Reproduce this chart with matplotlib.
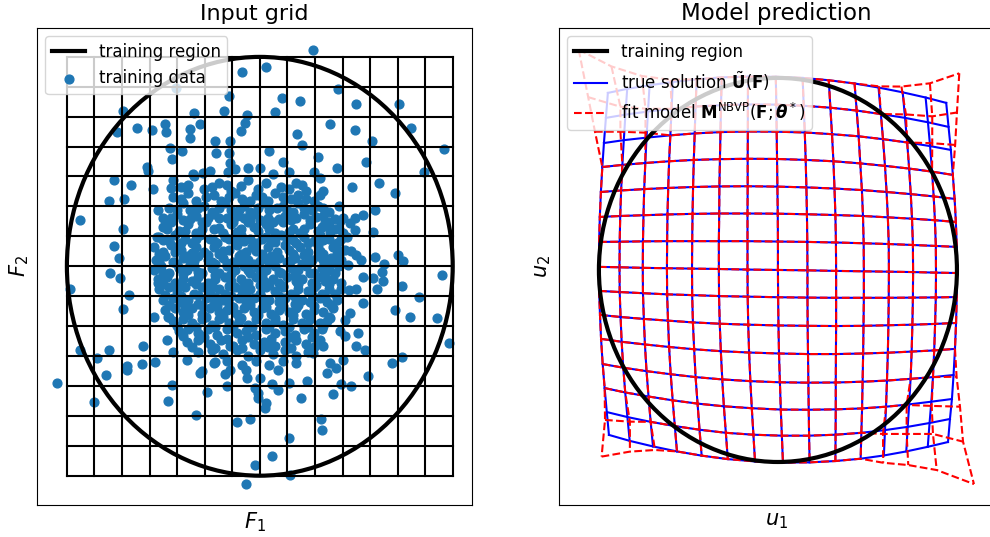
import numpy as np
import matplotlib
matplotlib.use("Agg")
import matplotlib.pyplot as plt
from matplotlib.patches import Circle
from matplotlib.lines import Line2D

# ---------------- data ----------------
grid_F = [-1.0, -0.857, -0.714, -0.571, -0.429, -0.286, -0.143, 0.0,
          0.143, 0.286, 0.429, 0.571, 0.714, 0.857, 1.0]
circle_radius = 1.0

# sparse training points (outer part of the cloud)
outer_pts = [
    (-0.435, 0.852), (-0.093, 0.927), (0.030, 0.951), (-0.159, 0.814), (-0.708, 0.744),
    (-0.340, 0.734), (-0.185, 0.742), (-0.067, 0.723), (-0.078, 0.684), (-0.100, 0.647),
    (0.078, 0.736), (-0.639, 0.660), (-0.742, 0.639), (-0.558, 0.650), (-0.489, 0.680),
    (-0.485, 0.641), (-0.361, 0.655), (-0.361, 0.615), (-0.309, 0.680), (-0.230, 0.598),
    (-0.154, 0.599), (-0.466, 0.567), (-0.404, 0.551), (-0.454, 0.512), (-0.228, 0.540),
    (-0.161, 0.540), (-0.155, 0.495), (-0.587, 0.474), (-0.577, 0.453), (-0.755, 0.411),
    (-0.670, 0.386), (-0.553, 0.367), (-0.449, 0.413), (-0.460, 0.373), (-0.346, 0.442),
    (-0.294, 0.445), (-0.259, 0.453), (-0.784, 0.314), (-0.703, 0.322), (-0.167, 0.451),
    (-0.130, 0.465), (-0.061, 0.469), (0.275, 1.033),
    (0.404, 0.847), (0.207, 0.790), (0.114, 0.804), (0.497, 0.776), (0.720, 0.776),
    (0.782, 0.661), (0.953, 0.561), (0.363, 0.680), (0.192, 0.632), (0.492, 0.652),
    (0.05, 0.55), (0.12, 0.50), (0.22, 0.58), (0.30, 0.52), (0.40, 0.47), (0.55, 0.50),
    (0.62, 0.40), (0.70, 0.35), (0.48, 0.38), (0.15, 0.45), (0.00, 0.47), (0.28, 0.45),
    (0.85, 0.45), (0.58, 0.60),
    (-0.933, 0.222), (-0.708, 0.178), (-0.756, 0.095), (-0.729, 0.039), (-0.777, -0.032),
    (-0.725, -0.056), (-0.984, -0.109), (-0.680, -0.136), (-0.708, -0.204), (-0.933, -0.399),
    (-0.782, -0.402), (-0.846, -0.438), (-0.605, -0.383), (-0.798, -0.518), (-0.688, -0.478),
    (-0.611, -0.467), (-0.542, -0.459), (-1.053, -0.558), (-0.527, 0.270), (-0.483, 0.203),
    (-0.535, 0.142), (-0.509, 0.047), (-0.527, -0.080), (-0.549, -0.240), (-0.475, -0.242),
    (-0.483, -0.351), (-0.449, -0.407), (-0.380, -0.446), (-0.294, -0.335), (-0.302, -0.502),
    (-0.233, -0.459), (-0.155, -0.383),
    (0.596, 0.270), (0.535, 0.246), (0.492, 0.230), (0.466, 0.206), (0.415, 0.214),
    (0.492, 0.174), (0.587, 0.166), (0.346, 0.198), (0.363, 0.166), (0.423, 0.071),
    (0.475, 0.071), (0.501, 0.055), (0.527, 0.031), (0.389, 0.031), (0.458, 0.007),
    (0.596, 0.044), (0.642, 0.012), (0.717, 0.055), (0.742, 0.023), (0.631, -0.025),
    (0.535, -0.052), (0.587, -0.056), (0.639, -0.068), (0.605, -0.109), (0.945, -0.041),
    (0.737, -0.096), (0.824, -0.147), (0.463, -0.112), (0.501, -0.109), (0.535, -0.176),
    (0.699, -0.208), (0.777, -0.240), (0.919, -0.247), (0.466, -0.223), (0.440, -0.255),
    (0.363, -0.247), (0.509, -0.319), (0.497, -0.383), (0.544, -0.402), (0.415, -0.311),
    (0.440, -0.335), (0.981, -0.364), (0.739, -0.435), (0.685, -0.462), (0.561, -0.523),
    (0.432, -0.446), (0.363, -0.462), (0.346, -0.510), (0.397, -0.486), (0.311, -0.351),
    (0.328, -0.383), (0.276, -0.414),
    (-0.859, -0.648), (-0.691, -0.494), (-0.454, -0.566), (-0.475, -0.642), (-0.333, -0.712),
    (-0.311, -0.510), (-0.276, -0.598), (-0.178, -0.513), (-0.169, -0.574), (-0.155, -0.494),
    (-0.118, -0.744), (-0.073, -0.494), (-0.064, -0.534), (-0.052, -0.729), (-0.026, -0.581),
    (-0.009, -0.605), (-0.009, -0.629), (0.000, -0.534), (0.031, -0.653), (0.026, -0.677),
    (0.061, -0.561), (0.095, -0.593), (0.095, -0.494), (0.152, -0.558), (0.150, -0.820),
    (0.064, -0.908), (-0.026, -0.948), (0.155, -0.995), (-0.074, -1.040), (0.211, -0.629),
    (0.247, -0.550), (0.316, -0.729), (0.320, -0.780), (0.380, -0.609), (0.423, -0.561),
    (0.472, -0.574),
]

# dense core of the training cloud
core_pts = [
    (-0.41, 0.38), (-0.34, 0.43), (-0.29, 0.37), (-0.21, 0.40), (-0.15, 0.36), (-0.06, 0.41),
    (-0.01, 0.37), (0.07, 0.44), (0.11, 0.38), (0.19, 0.40), (0.24, 0.36), (0.31, 0.42),
    (-0.45, 0.33), (-0.37, 0.35), (-0.33, 0.31), (-0.24, 0.34), (-0.20, 0.31), (-0.13, 0.35),
    (-0.09, 0.32), (-0.02, 0.34), (0.04, 0.31), (0.08, 0.35), (0.16, 0.32), (0.20, 0.34),
    (0.28, 0.31), (0.33, 0.36),
    (-0.47, 0.28), (-0.40, 0.30), (-0.36, 0.27), (-0.29, 0.29), (-0.25, 0.26), (-0.18, 0.30),
    (-0.15, 0.27), (-0.08, 0.29), (-0.05, 0.26), (0.02, 0.30), (0.05, 0.27), (0.12, 0.29),
    (0.17, 0.26), (0.20, 0.30), (0.27, 0.27), (0.30, 0.29), (0.36, 0.26), (0.41, 0.29),
    (-0.50, 0.23), (-0.43, 0.25), (-0.40, 0.22), (-0.33, 0.24), (-0.30, 0.21), (-0.24, 0.25),
    (-0.21, 0.23), (-0.14, 0.21), (-0.12, 0.24), (-0.05, 0.22), (-0.03, 0.25), (0.04, 0.23),
    (0.07, 0.21), (0.13, 0.24), (0.16, 0.22), (0.23, 0.25), (0.26, 0.22), (0.33, 0.24),
    (0.36, 0.21), (0.43, 0.23),
    (-0.50, 0.19), (-0.46, 0.21), (-0.42, 0.17), (-0.37, 0.20), (-0.33, 0.16), (-0.28, 0.21),
    (-0.24, 0.18), (-0.19, 0.16), (-0.15, 0.20), (-0.10, 0.18), (-0.06, 0.21), (-0.01, 0.17),
    (0.03, 0.20), (0.08, 0.16), (0.12, 0.21), (0.17, 0.18), (0.21, 0.16), (0.26, 0.20),
    (0.30, 0.17), (0.34, 0.21), (0.39, 0.18), (0.43, 0.16),
    (-0.52, 0.14), (-0.47, 0.12), (-0.44, 0.15), (-0.39, 0.13), (-0.35, 0.11), (-0.31, 0.15),
    (-0.26, 0.13), (-0.22, 0.11), (-0.18, 0.14), (-0.13, 0.12), (-0.10, 0.15), (-0.05, 0.13),
    (-0.02, 0.11), (0.03, 0.14), (0.06, 0.12), (0.11, 0.15), (0.14, 0.13), (0.19, 0.11),
    (0.23, 0.14), (0.28, 0.12), (0.31, 0.15), (0.36, 0.13), (0.40, 0.11), (0.45, 0.14),
    (-0.55, 0.09), (-0.50, 0.07), (-0.46, 0.10), (-0.41, 0.08), (-0.38, 0.05), (-0.33, 0.09),
    (-0.29, 0.07), (-0.24, 0.09), (-0.21, 0.06), (-0.16, 0.08), (-0.12, 0.10), (-0.07, 0.07),
    (-0.04, 0.09), (0.01, 0.06), (0.04, 0.09), (0.09, 0.07), (0.13, 0.10), (0.17, 0.06),
    (0.21, 0.09), (0.25, 0.07), (0.30, 0.10), (0.33, 0.06), (0.38, 0.09), (0.44, 0.08),
    (-0.54, 0.03), (-0.49, 0.05), (-0.45, 0.02), (-0.40, 0.04), (-0.36, 0.01), (-0.32, 0.05),
    (-0.27, 0.03), (-0.23, 0.01), (-0.19, 0.04), (-0.14, 0.02), (-0.11, 0.05), (-0.06, 0.03),
    (-0.03, 0.01), (0.02, 0.04), (0.05, 0.02), (0.10, 0.04), (0.14, 0.02), (0.18, 0.04),
    (0.22, 0.01), (0.27, 0.03), (0.30, 0.05), (0.35, 0.02), (0.37, 0.04), (0.42, 0.03),
    (-0.55, -0.02), (-0.51, 0.00), (-0.47, -0.03), (-0.42, -0.01), (-0.38, -0.02), (-0.34, 0.00),
    (-0.30, -0.03), (-0.25, -0.01), (-0.21, -0.03), (-0.17, 0.00), (-0.13, -0.02), (-0.08, 0.00),
    (-0.05, -0.03), (-0.01, -0.01), (0.03, -0.02), (0.08, 0.00), (0.11, -0.03), (0.16, -0.01),
    (0.20, -0.02), (0.24, 0.00), (0.28, -0.03), (0.32, -0.01), (0.36, -0.02), (0.41, 0.00),
    (-0.53, -0.06), (-0.48, -0.05), (-0.44, -0.08), (-0.40, -0.06), (-0.35, -0.07), (-0.32, -0.05),
    (-0.27, -0.08), (-0.23, -0.06), (-0.18, -0.05), (-0.15, -0.07), (-0.10, -0.06), (-0.06, -0.08),
    (-0.02, -0.05), (0.02, -0.07), (0.07, -0.06), (0.10, -0.08), (0.14, -0.05), (0.19, -0.07),
    (0.22, -0.06), (0.27, -0.08), (0.30, -0.05), (0.34, -0.07), (0.38, -0.06), (0.42, -0.08),
    (-0.52, -0.11), (-0.47, -0.10), (-0.43, -0.12), (-0.39, -0.10), (-0.34, -0.13), (-0.30, -0.10),
    (-0.26, -0.12), (-0.21, -0.11), (-0.18, -0.13), (-0.13, -0.10), (-0.09, -0.12), (-0.05, -0.11),
    (0.00, -0.13), (0.03, -0.10), (0.08, -0.12), (0.12, -0.10), (0.16, -0.13), (0.20, -0.11),
    (0.25, -0.12), (0.28, -0.10), (0.32, -0.13), (0.36, -0.11), (0.39, -0.13), (0.42, -0.11),
    (-0.50, -0.16), (-0.45, -0.15), (-0.41, -0.17), (-0.37, -0.16), (-0.32, -0.18), (-0.28, -0.15),
    (-0.24, -0.17), (-0.19, -0.16), (-0.16, -0.18), (-0.11, -0.15), (-0.07, -0.17), (-0.03, -0.15),
    (0.02, -0.18), (0.05, -0.16), (0.10, -0.17), (0.13, -0.15), (0.18, -0.18), (0.22, -0.16),
    (0.26, -0.17), (0.31, -0.15), (0.35, -0.17), (0.40, -0.16),
    (-0.49, -0.21), (-0.44, -0.20), (-0.40, -0.22), (-0.35, -0.20), (-0.30, -0.23), (-0.26, -0.20),
    (-0.21, -0.22), (-0.17, -0.21), (-0.12, -0.23), (-0.08, -0.20), (-0.03, -0.22), (0.01, -0.20),
    (0.06, -0.23), (0.10, -0.21), (0.15, -0.22), (0.19, -0.20), (0.24, -0.23), (0.28, -0.21),
    (0.33, -0.22), (0.38, -0.20),
    (-0.45, -0.26), (-0.40, -0.25), (-0.35, -0.27), (-0.30, -0.25), (-0.25, -0.28), (-0.21, -0.25),
    (-0.16, -0.27), (-0.11, -0.26), (-0.06, -0.28), (-0.02, -0.25), (0.03, -0.27), (0.08, -0.26),
    (0.12, -0.28), (0.17, -0.25), (0.22, -0.27), (0.26, -0.25), (0.31, -0.27), (0.35, -0.26),
    (-0.42, -0.31), (-0.37, -0.30), (-0.32, -0.32), (-0.27, -0.30), (-0.22, -0.33), (-0.17, -0.30),
    (-0.12, -0.32), (-0.07, -0.31), (-0.02, -0.33), (0.03, -0.30), (0.08, -0.32), (0.13, -0.31),
    (0.18, -0.33), (0.23, -0.30), (0.28, -0.32), (0.32, -0.30),
    (-0.38, -0.36), (-0.32, -0.35), (-0.26, -0.37), (-0.20, -0.35), (-0.14, -0.38), (-0.09, -0.35),
    (-0.03, -0.37), (0.02, -0.36), (0.08, -0.38), (0.13, -0.36), (0.19, -0.35), (0.24, -0.37),
    (0.30, -0.36),
    (-0.32, -0.41), (-0.25, -0.40), (-0.19, -0.42), (-0.12, -0.40), (-0.06, -0.43), (0.00, -0.40),
    (0.07, -0.42), (0.13, -0.40), (0.19, -0.43), (0.25, -0.41),
    (-0.24, -0.46), (-0.17, -0.45), (-0.09, -0.47), (-0.02, -0.45), (0.05, -0.47), (0.12, -0.45),
    (0.19, -0.46),
]

# further core points filling the gaps of the densest part
core_fill_pts = [
    (-0.37, 0.39), (-0.25, 0.38), (-0.17, 0.39), (-0.10, 0.385), (0.03, 0.40), (0.15, 0.37), (0.22, 0.39),
    (-0.41, 0.32), (-0.28, 0.33), (-0.16, 0.33), (-0.05, 0.31), (0.01, 0.33), (0.12, 0.33), (0.24, 0.32),
    (0.31, 0.34),
    (-0.43, 0.27), (-0.32, 0.28), (-0.21, 0.28), (-0.11, 0.27), (-0.01, 0.28), (0.09, 0.28), (0.14, 0.27),
    (0.23, 0.28), (0.33, 0.28),
    (-0.46, 0.23), (-0.36, 0.225), (-0.27, 0.23), (-0.17, 0.23), (-0.08, 0.23), (0.00, 0.22),
    (0.10, 0.225), (0.19, 0.23), (0.29, 0.235), (0.39, 0.225),
    (-0.48, 0.18), (-0.39, 0.17), (-0.30, 0.18), (-0.21, 0.185), (-0.12, 0.165), (-0.03, 0.19),
    (0.05, 0.18), (0.15, 0.165), (0.23, 0.18), (0.32, 0.19), (0.41, 0.18),
    (-0.50, 0.125), (-0.41, 0.11), (-0.33, 0.13), (-0.24, 0.12), (-0.16, 0.13), (-0.08, 0.12),
    (0.01, 0.13), (0.08, 0.115), (0.17, 0.125), (0.25, 0.11), (0.33, 0.125), (0.42, 0.13),
    (-0.52, 0.06), (-0.44, 0.07), (-0.35, 0.065), (-0.27, 0.055), (-0.19, 0.075), (-0.10, 0.06),
    (-0.02, 0.075), (0.06, 0.05), (0.15, 0.08), (0.23, 0.055), (0.31, 0.075), (0.40, 0.06),
    (-0.52, 0.02), (-0.43, 0.01), (-0.34, 0.025), (-0.25, 0.02), (-0.17, 0.015), (-0.09, 0.02),
    (0.00, 0.025), (0.07, 0.015), (0.16, 0.03), (0.25, 0.015), (0.33, 0.03), (0.39, 0.015),
    (-0.50, -0.03), (-0.40, -0.035), (-0.32, -0.025), (-0.23, -0.04), (-0.15, -0.035), (-0.06, -0.02),
    (0.01, -0.04), (0.10, -0.025), (0.18, -0.04), (0.26, -0.03), (0.34, -0.04), (0.39, -0.03),
    (-0.50, -0.085), (-0.42, -0.09), (-0.33, -0.085), (-0.25, -0.09), (-0.16, -0.095), (-0.08, -0.085),
    (0.00, -0.09), (0.05, -0.085), (0.12, -0.095), (0.20, -0.085), (0.29, -0.09), (0.36, -0.085),
    (-0.49, -0.135), (-0.41, -0.14), (-0.32, -0.135), (-0.23, -0.145), (-0.15, -0.14), (-0.07, -0.135),
    (0.01, -0.15), (0.10, -0.14), (0.18, -0.145), (0.27, -0.135), (0.34, -0.145),
    (-0.47, -0.185), (-0.39, -0.19), (-0.30, -0.185), (-0.22, -0.19), (-0.14, -0.195), (-0.05, -0.185),
    (0.03, -0.195), (0.12, -0.19), (0.20, -0.185), (0.28, -0.19), (0.37, -0.185),
    (-0.47, -0.24), (-0.37, -0.235), (-0.28, -0.24), (-0.19, -0.24), (-0.10, -0.245), (-0.01, -0.235),
    (0.08, -0.245), (0.17, -0.235), (0.26, -0.24), (0.36, -0.24),
    (-0.43, -0.285), (-0.33, -0.29), (-0.23, -0.29), (-0.14, -0.285), (-0.04, -0.29), (0.05, -0.285),
    (0.15, -0.29), (0.25, -0.29), (0.33, -0.285),
    (-0.40, -0.335), (-0.29, -0.34), (-0.17, -0.345), (-0.06, -0.34), (0.06, -0.345), (0.16, -0.34),
    (0.27, -0.34),
    (-0.35, -0.385), (-0.23, -0.39), (-0.09, -0.39), (0.04, -0.385), (0.16, -0.39), (0.28, -0.385),
]

# true solution grid nodes (rows: top -> bottom, columns: left -> right)
blue_u1 = [
    [-0.950, -0.842, -0.717, -0.587, -0.454, -0.314, -0.167, -0.012, 0.138, 0.284, 0.428, 0.562, 0.697, 0.825, 0.940],
    [-0.961, -0.852, -0.726, -0.594, -0.460, -0.318, -0.168, -0.009, 0.144, 0.293, 0.440, 0.575, 0.710, 0.838, 0.953],
    [-0.972, -0.861, -0.734, -0.601, -0.465, -0.321, -0.168, -0.007, 0.150, 0.302, 0.451, 0.587, 0.722, 0.850, 0.966],
    [-0.981, -0.869, -0.741, -0.608, -0.470, -0.324, -0.169, -0.005, 0.155, 0.310, 0.460, 0.598, 0.733, 0.861, 0.977],
    [-0.989, -0.876, -0.747, -0.613, -0.474, -0.327, -0.169, -0.003, 0.159, 0.316, 0.469, 0.607, 0.742, 0.870, 0.987],
    [-0.995, -0.881, -0.751, -0.617, -0.477, -0.328, -0.170, -0.001, 0.162, 0.321, 0.475, 0.614, 0.749, 0.877, 0.994],
    [-0.999, -0.884, -0.754, -0.619, -0.479, -0.330, -0.170, 0.000, 0.164, 0.324, 0.479, 0.619, 0.754, 0.882, 0.999],
    [-1.000, -0.885, -0.755, -0.620, -0.480, -0.330, -0.170, 0.000, 0.165, 0.325, 0.480, 0.620, 0.755, 0.883, 1.000],
    [-0.999, -0.884, -0.754, -0.619, -0.479, -0.329, -0.169, 0.001, 0.165, 0.325, 0.480, 0.619, 0.754, 0.882, 0.999],
    [-0.994, -0.879, -0.749, -0.614, -0.475, -0.325, -0.166, 0.003, 0.166, 0.325, 0.478, 0.617, 0.751, 0.878, 0.995],
    [-0.988, -0.873, -0.743, -0.608, -0.468, -0.319, -0.161, 0.006, 0.168, 0.324, 0.476, 0.614, 0.747, 0.873, 0.989],
    [-0.979, -0.864, -0.734, -0.599, -0.460, -0.311, -0.154, 0.011, 0.170, 0.323, 0.473, 0.609, 0.741, 0.866, 0.981],
    [-0.968, -0.853, -0.723, -0.588, -0.449, -0.302, -0.146, 0.016, 0.172, 0.323, 0.470, 0.604, 0.733, 0.857, 0.972],
    [-0.956, -0.841, -0.711, -0.576, -0.438, -0.291, -0.137, 0.022, 0.174, 0.322, 0.466, 0.598, 0.725, 0.847, 0.961],
    [-0.944, -0.828, -0.698, -0.564, -0.426, -0.280, -0.128, 0.028, 0.177, 0.321, 0.462, 0.592, 0.717, 0.837, 0.950],
]
blue_u2 = [
    [0.922, 0.943, 0.962, 0.979, 0.993, 1.003, 1.007, 1.006, 1.000, 0.988, 0.971, 0.950, 0.925, 0.898, 0.870],
    [0.792, 0.809, 0.825, 0.839, 0.851, 0.858, 0.862, 0.861, 0.855, 0.845, 0.830, 0.812, 0.792, 0.769, 0.745],
    [0.661, 0.676, 0.689, 0.701, 0.711, 0.718, 0.721, 0.720, 0.716, 0.707, 0.696, 0.681, 0.664, 0.645, 0.625],
    [0.536, 0.547, 0.557, 0.566, 0.573, 0.577, 0.579, 0.578, 0.573, 0.566, 0.555, 0.542, 0.528, 0.512, 0.495],
    [0.406, 0.414, 0.421, 0.427, 0.432, 0.435, 0.436, 0.434, 0.430, 0.424, 0.416, 0.406, 0.395, 0.383, 0.370],
    [0.276, 0.281, 0.285, 0.289, 0.292, 0.294, 0.294, 0.293, 0.290, 0.286, 0.281, 0.274, 0.267, 0.259, 0.250],
    [0.146, 0.147, 0.149, 0.150, 0.150, 0.150, 0.150, 0.148, 0.146, 0.143, 0.139, 0.135, 0.130, 0.125, 0.120],
    [0.016, 0.014, 0.011, 0.009, 0.007, 0.005, 0.002, 0.000, -0.002, -0.005, -0.007, -0.009, -0.011, -0.014, -0.016],
    [-0.109, -0.115, -0.121, -0.127, -0.131, -0.136, -0.139, -0.142, -0.144, -0.145, -0.145, -0.145, -0.144, -0.143, -0.141],
    [-0.234, -0.245, -0.255, -0.264, -0.273, -0.280, -0.285, -0.289, -0.291, -0.292, -0.291, -0.288, -0.285, -0.281, -0.276],
    [-0.359, -0.374, -0.388, -0.401, -0.413, -0.423, -0.430, -0.435, -0.438, -0.438, -0.435, -0.431, -0.425, -0.419, -0.411],
    [-0.490, -0.509, -0.527, -0.543, -0.558, -0.570, -0.579, -0.585, -0.587, -0.586, -0.582, -0.576, -0.567, -0.558, -0.547],
    [-0.615, -0.638, -0.659, -0.679, -0.696, -0.710, -0.720, -0.727, -0.728, -0.726, -0.721, -0.712, -0.700, -0.686, -0.672],
    [-0.740, -0.766, -0.791, -0.813, -0.832, -0.848, -0.858, -0.863, -0.863, -0.858, -0.848, -0.834, -0.817, -0.797, -0.776],
    [-0.859, -0.890, -0.919, -0.945, -0.967, -0.985, -0.997, -1.003, -1.002, -0.995, -0.983, -0.966, -0.945, -0.921, -0.896],
]

# fit-model nodes that differ from the true solution: (row, col, u1, u2)
red_nodes = [
    (0, 0, -1.113, 1.147), (0, 1, -0.93, 1.06), (0, 2, -0.76, 1.01), (0, 3, -0.60, 0.99),
    (1, 0, -1.06, 0.90), (1, 1, -0.88, 0.85), (1, 2, -0.74, 0.84),
    (2, 0, -1.022, 0.720), (2, 1, -0.88, 0.72), (2, 2, -0.74, 0.715),
    (0, 11, 0.565, 0.956), (0, 12, 0.690, 0.955), (0, 13, 0.849, 0.972), (0, 14, 1.013, 1.024),
    (1, 12, 0.715, 0.81), (1, 13, 0.862, 0.80), (1, 14, 1.0, 0.82),
    (2, 13, 0.862, 0.66), (2, 14, 0.99, 0.651),
    (13, 0, -0.966, -0.781), (13, 1, -0.827, -0.790), (14, 0, -0.985, -0.972),
    (14, 1, -0.827, -0.946), (14, 2, -0.687, -0.9375),
    (11, 14, 0.998, -0.556), (12, 12, 0.719, -0.703), (12, 13, 0.859, -0.708), (12, 14, 1.017, -0.712),
    (13, 11, 0.587, -0.854), (13, 12, 0.719, -0.854), (13, 13, 0.866, -0.854), (13, 14, 1.034, -0.894),
    (14, 11, 0.588, -1.004), (14, 12, 0.728, -1.016), (14, 13, 0.887, -1.042), (14, 14, 1.095, -1.115),
]

# ---------------- figure ----------------
W, H = 990, 537
fig = plt.figure(figsize=(W / 100, H / 100), dpi=100)
ax1 = fig.add_axes([37 / W, 32 / H, 435 / W, 477 / H])
ax2 = fig.add_axes([559 / W, 32 / H, 435 / W, 477 / H])

# ---- left: input grid ----
pts = np.array(outer_pts + core_pts + core_fill_pts)
sc = ax1.scatter(pts[:, 0], pts[:, 1], s=40, color="#1f77b4", zorder=1, label="training data")
lo, hi = grid_F[0], grid_F[-1]
for g in grid_F:
    ax1.plot([g, g], [lo, hi], color="black", lw=1.5, zorder=2)
    ax1.plot([lo, hi], [g, g], color="black", lw=1.5, zorder=2)
ax1.add_patch(Circle((0, 0), circle_radius, fill=False, ec="black", lw=3, zorder=3))
h_region = Line2D([], [], color="black", lw=3, label="training region")
ax1.legend(handles=[h_region, sc], loc="upper left", fontsize=12)
ax1.set_xlim(-1.155, 1.10)
ax1.set_ylim(-1.14, 1.138)
ax1.set_xticks([])
ax1.set_yticks([])
ax1.set_xlabel("$F_1$", fontsize=15)
ax1.set_ylabel("$F_2$", fontsize=15)
ax1.set_title("Input grid", fontsize=16)

# ---- right: model prediction ----
U1 = np.array(blue_u1)
U2 = np.array(blue_u2)
R1 = U1.copy()
R2 = U2.copy()
for r, c, a, b in red_nodes:
    R1[r, c] = a
    R2[r, c] = b

n = U1.shape[0]
for k in range(n):
    ax2.plot(U1[k, :], U2[k, :], color="blue", lw=1.5, zorder=2)
    ax2.plot(U1[:, k], U2[:, k], color="blue", lw=1.5, zorder=2)
for k in range(n):
    ax2.plot(R1[k, :], R2[k, :], color="red", ls="--", lw=1.5, zorder=3)
    ax2.plot(R1[:, k], R2[:, k], color="red", ls="--", lw=1.5, zorder=3)
ax2.add_patch(Circle((0, 0), circle_radius, fill=False, ec="black", lw=3, zorder=4))

h_true = Line2D([], [], color="blue", lw=1.5,
                label=r"true solution $\tilde{\mathbf{U}}(\mathbf{F})$")
h_fit = Line2D([], [], color="red", ls="--", lw=1.5,
               label=r"fit model $\mathbf{M}^{\mathrm{NBVP}}(\mathbf{F};\boldsymbol{\theta}^*)$")
ax2.legend(handles=[h_region, h_true, h_fit], loc="upper left", fontsize=12)
ax2.set_xlim(-1.223, 1.207)
ax2.set_ylim(-1.224, 1.26)
ax2.set_xticks([])
ax2.set_yticks([])
ax2.set_xlabel("$u_1$", fontsize=15)
ax2.set_ylabel("$u_2$", fontsize=15)
ax2.set_title("Model prediction", fontsize=16.5)

fig.savefig("out.png", dpi=100)
